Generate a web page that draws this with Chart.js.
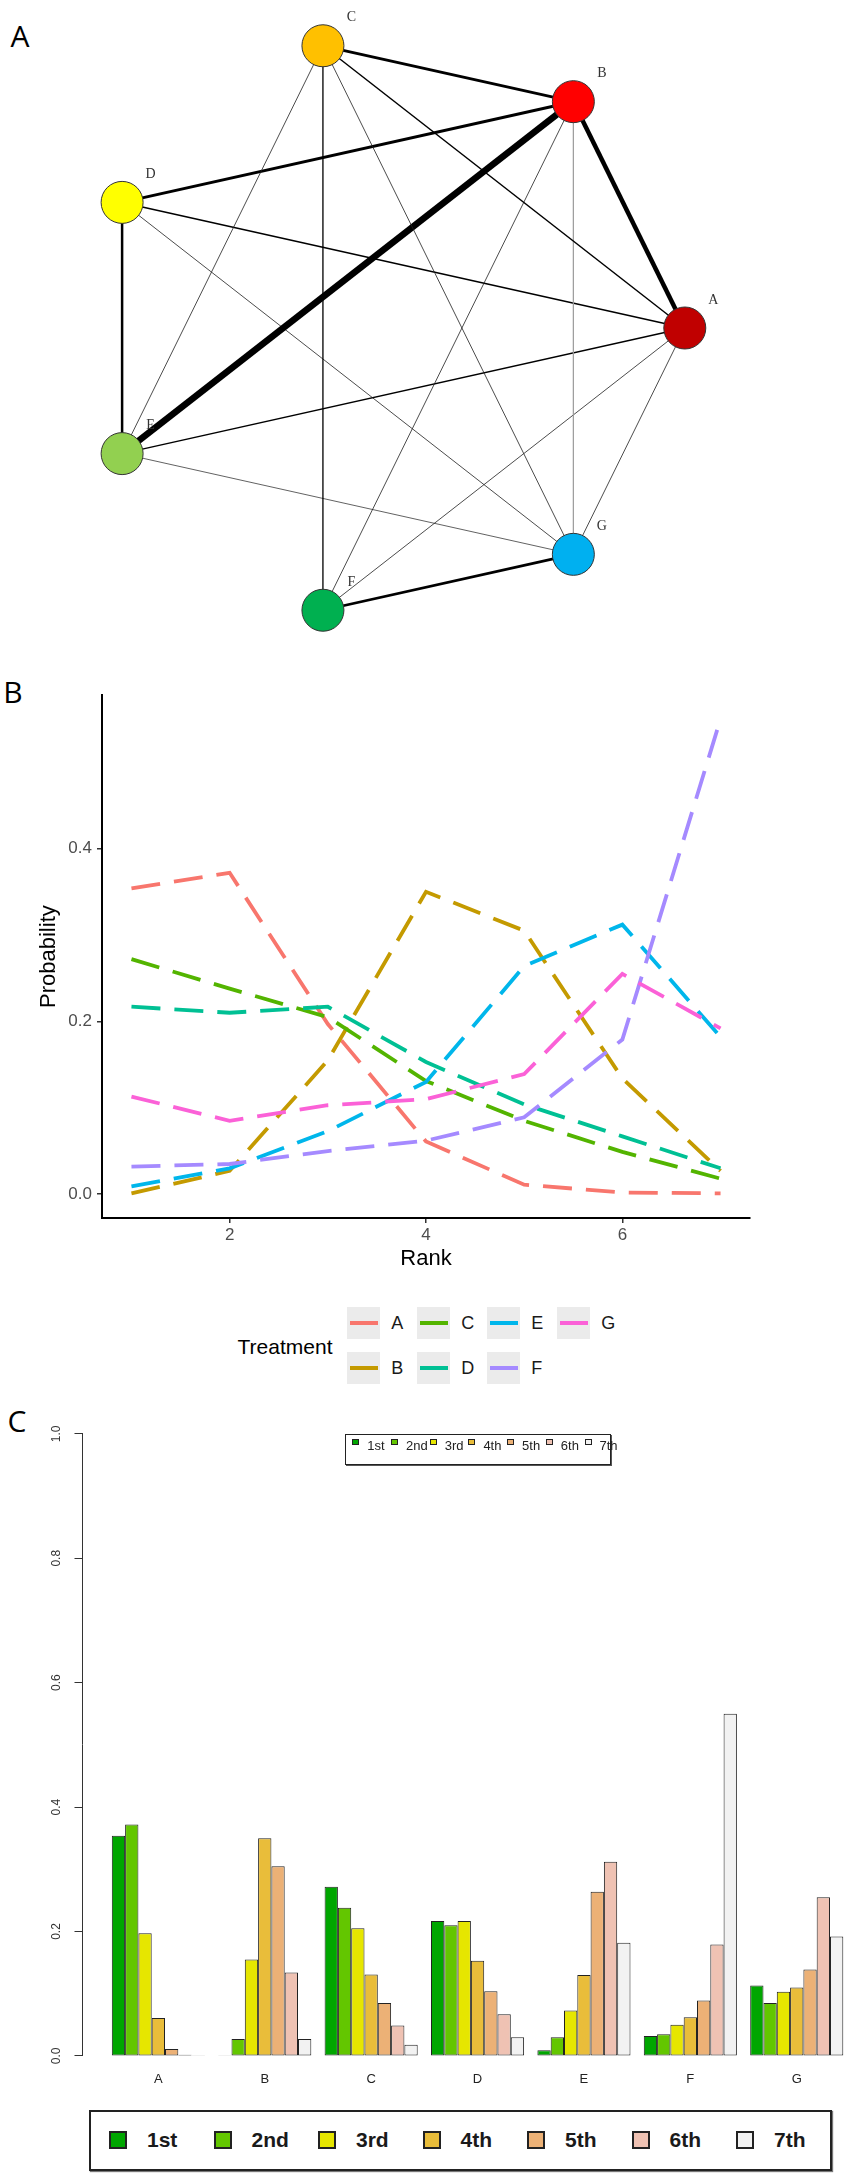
<!DOCTYPE html>
<html>
<head>
<meta charset="utf-8">
<script src="https://cdn.jsdelivr.net/npm/chart.js@4.4.1/dist/chart.umd.min.js"></script>
<style>
  body { margin: 0; background: #fff; width: 851px; height: 2182px; position: relative; overflow: hidden;
         font-family: "Liberation Sans", Arial, sans-serif; }
  canvas { position: absolute; left: 0; }
  .tag { position: absolute; font-family: "Open Sans", sans-serif; font-size: 30px; line-height: 30px;
         transform: translate(-50%, -50%); color: #000; }
  .abs { position: absolute; }
</style>
</head>
<body>
<div class="tag" style="left:20px;top:36px">A</div>
<div class="tag" style="left:13px;top:692px">B</div>
<div class="tag" style="left:17px;top:1421px">C</div>

<canvas id="netChart" width="851" height="660" style="top:0"></canvas>
<canvas id="lineChart" width="851" height="610" style="top:680px"></canvas>
<div id="lineLegend"></div>
<canvas id="barChart" width="851" height="700" style="top:1400px"></canvas>
<div id="barLegendTop"></div>
<div id="barLegendBottom"></div>

<script>
// treatments and ranks
const treatments = ['A', 'B', 'C', 'D', 'E', 'F', 'G'];
const ranks = [1, 2, 3, 4, 5, 6, 7];
const rankNames = ['1st', '2nd', '3rd', '4th', '5th', '6th', '7th'];

// probability of being ranked 1st..7th, one array per treatment
const probA = [0.354, 0.372, 0.197, 0.061, 0.011, 0.002, 0.001];
const probB = [0.001, 0.027, 0.155, 0.350, 0.305, 0.134, 0.027];
const probC = [0.272, 0.238, 0.205, 0.131, 0.085, 0.049, 0.018];
const probD = [0.217, 0.210, 0.217, 0.153, 0.104, 0.067, 0.030];
const probE = [0.009, 0.030, 0.073, 0.130, 0.264, 0.312, 0.182];
const probF = [0.032, 0.035, 0.050, 0.062, 0.089, 0.179, 0.550];
const probG = [0.113, 0.085, 0.103, 0.110, 0.139, 0.255, 0.192];
const probs = [probA, probB, probC, probD, probE, probF, probG];

// network: direct comparisons and their line widths
const edgeFrom  = ['C', 'C', 'C', 'C', 'C', 'B', 'B', 'B', 'B', 'B', 'D', 'D', 'D', 'A', 'A', 'A', 'E', 'F'];
const edgeTo    = ['B', 'A', 'G', 'F', 'E', 'D', 'E', 'A', 'G', 'F', 'A', 'G', 'E', 'E', 'G', 'F', 'G', 'G'];
const edgeWidth = [2.8, 1.5, 0.8, 1.3, 0.8, 3.0, 6.5, 4.5, 1.2, 0.8, 1.5, 0.8, 2.5, 1.5, 0.8, 0.8, 0.7, 2.8];

// tick labels
const rankTicks = [2, 4, 6];
const lineTicks = [0, 0.2, 0.4];
const barTicks = [0, 0.2, 0.4, 0.6, 0.8, 1.0];

const nodeColors = ['#C00000', '#FF0000', '#FFC000', '#FFFF00', '#92D050', '#00B050', '#00B0F0'];
const lineColors = ['#F8766D', '#C49A00', '#53B400', '#00C094', '#00B6EB', '#A58AFF', '#FB61D7'];
const rankColors = ['#00A600', '#63C600', '#E6E600', '#E9BD3A', '#ECB176', '#EFC2B3', '#F2F2F2'];

Chart.defaults.font.family = '"Liberation Sans", Arial, sans-serif';
Chart.defaults.animation = false;
Chart.defaults.plugins.legend.display = false;
Chart.defaults.plugins.tooltip.enabled = false;

// ---------- A: network (circle layout) ----------
const nodeX = treatments.map((t, k) => Math.cos(2 * Math.PI * k / 7));
const nodeY = treatments.map((t, k) => Math.sin(2 * Math.PI * k / 7));

function nodePoint(name) {
  let k = treatments.indexOf(name);
  return { x: nodeX[k], y: nodeY[k] };
}

let netSets = [{
  type: 'scatter',
  data: treatments.map((t, k) => ({ x: nodeX[k], y: nodeY[k] })),
  pointRadius: 21,
  pointBackgroundColor: nodeColors,
  pointBorderColor: '#333',
  pointBorderWidth: 1,
  order: 0
}];
for (let i = 0; i < edgeFrom.length; i++) {
  let grey = edgeFrom[i] === 'B' && edgeTo[i] === 'G';
  netSets.push({
    type: 'line',
    data: [nodePoint(edgeFrom[i]), nodePoint(edgeTo[i])],
    borderColor: grey ? '#9a9a9a' : (edgeWidth[i] < 1 ? '#1e1e1e' : '#000'),
    borderWidth: edgeWidth[i],
    pointRadius: 0,
    order: 1
  });
}

const nodeLabels = {
  id: 'nodeLabels',
  afterDatasetsDraw(chart) {
    const { ctx, scales: { x, y } } = chart;
    ctx.save();
    ctx.font = '14px "Liberation Serif", serif';
    ctx.fillStyle = '#333';
    ctx.textAlign = 'center';
    ctx.textBaseline = 'middle';
    treatments.forEach((t, k) => {
      ctx.fillText(t, x.getPixelForValue(nodeX[k]) + 28.5, y.getPixelForValue(nodeY[k]) - 28);
    });
    ctx.restore();
  }
};

new Chart(document.getElementById('netChart'), {
  type: 'scatter',
  data: { datasets: netSets },
  options: {
    responsive: false,
    layout: { padding: 0, autoPadding: false },
    scales: {
      x: { type: 'linear', display: false, min: -1.3135, max: 1.5615 },
      y: { type: 'linear', display: false, min: -1.1468, max: 1.133 }
    }
  },
  plugins: [nodeLabels]
});

// ---------- B: rankogram lines ----------
new Chart(document.getElementById('lineChart'), {
  type: 'line',
  data: {
    datasets: treatments.map((t, i) => ({
      label: t,
      data: ranks.map((r, j) => ({ x: r, y: probs[i][j] })),
      borderColor: lineColors[i],
      borderWidth: 3.8,
      borderDash: [29, 14],
      pointRadius: 0,
      tension: 0,
      fill: false,
      order: -i
    }))
  },
  options: {
    responsive: false,
    layout: { padding: { top: 8, right: 101, left: 0, bottom: 0 }, autoPadding: false },
    scales: {
      x: {
        type: 'linear', min: 0.7, max: 7.3,
        afterBuildTicks: s => { s.ticks = rankTicks.map(v => ({ value: v })); },
        afterFit: s => { s.height = 72; },
        grid: { display: true, drawOnChartArea: false, tickLength: 5, color: '#333', lineWidth: 1.5 },
        border: { display: true, color: '#000', width: 2 },
        ticks: { color: '#4D4D4D', font: { size: 17 }, padding: 2, maxRotation: 0, callback: v => String(v) },
        title: { display: true, text: 'Rank', color: '#000', font: { size: 22 }, padding: { top: 0, bottom: 18 } }
      },
      y: {
        type: 'linear', min: -0.0275, max: 0.5775,
        afterBuildTicks: s => { s.ticks = lineTicks.map(v => ({ value: v })); },
        afterFit: s => { s.width = 102; },
        grid: { display: true, drawOnChartArea: false, tickLength: 5, color: '#333', lineWidth: 1.5 },
        border: { display: true, color: '#000', width: 2 },
        ticks: { color: '#4D4D4D', font: { size: 17 }, padding: 5, callback: v => v.toFixed(1) },
        title: { display: true, text: 'Probability', color: '#000', font: { size: 22 }, padding: { top: 35.6, bottom: 0 } }
      }
    }
  }
});

// legend of B, filled column by column like ggplot
let lineLegend = document.getElementById('lineLegend');
let html = '<div class="abs" style="left:285px;top:1347px;transform:translate(-50%,-50%);font-size:21px;white-space:nowrap">Treatment</div>';
treatments.forEach((t, i) => {
  let col = Math.floor(i / 2), row = i % 2;
  let left = 347.3 + 70 * col, top = 1306.7 + 45 * row;
  html += '<div class="abs" style="left:' + left + 'px;top:' + top + 'px;width:32.6px;height:32px;background:#EBEBEB">' +
          '<div class="abs" style="left:2.7px;top:14.1px;width:28px;height:3.8px;background:' + lineColors[i] + '"></div></div>';
  html += '<div class="abs" style="left:' + (left + 44) + 'px;top:' + (top + 16) + 'px;transform:translateY(-50%);font-size:18px;color:#1a1a1a">' + t + '</div>';
});
lineLegend.innerHTML = html;

// ---------- C: grouped bars ----------
new Chart(document.getElementById('barChart'), {
  type: 'bar',
  data: {
    datasets: rankNames.map((r, k) => ({
      label: r,
      data: treatments.map((t, i) => ({ x: i, y: probs[i][k] })),
      backgroundColor: rankColors[k],
      borderColor: '#222',
      borderWidth: 1,
      borderSkipped: false,
      categoryPercentage: 0.875,
      barPercentage: 1
    }))
  },
  options: {
    responsive: false,
    layout: { padding: { top: 33.8, right: 0, left: 0, bottom: 0 }, autoPadding: false },
    scales: {
      x: {
        type: 'linear', min: -0.713, max: 6.51, offset: false,
        afterBuildTicks: s => { s.ticks = treatments.map((t, i) => ({ value: i })); },
        afterFit: s => { s.height = 44.1; },
        grid: { display: false, drawTicks: false, offset: false },
        border: { display: false },
        ticks: { color: '#222', font: { size: 13 }, padding: 16.2, maxRotation: 0, callback: v => treatments[v] }
      },
      y: {
        type: 'linear', min: 0, max: 1,
        afterBuildTicks: s => { s.ticks = barTicks.map(v => ({ value: v })); },
        afterFit: s => { s.width = 82.5; },
        grid: { display: true, drawOnChartArea: false, tickLength: 8, color: '#333', lineWidth: 1 },
        border: { display: true, color: '#333', width: 1 },
        ticks: { color: '#333', font: { size: 12 }, padding: 9.5, minRotation: 90, maxRotation: 90,
                 crossAlign: 'center', callback: v => v.toFixed(1) }
      }
    }
  }
});

// small legend inside the plot, top
let top1 = '<div class="abs" style="left:345px;top:1434px;width:264px;height:29px;border:1px solid #222;box-shadow:1px 1px 0 #555"></div>';
rankNames.forEach((r, k) => {
  let left = 352.3 + 38.7 * k;
  top1 += '<div class="abs" style="left:' + left + 'px;top:1438.5px;width:5px;height:4.5px;border:1px solid #222;background:' + rankColors[k] + '"></div>';
  top1 += '<div class="abs" style="left:' + (left + 15) + 'px;top:1445px;transform:translateY(-50%);font-size:13px;color:#222">' + r + '</div>';
});
document.getElementById('barLegendTop').innerHTML = top1;

// big legend under the plot
let bottom = '<div class="abs" style="left:88.5px;top:2110px;width:739px;height:57px;border:2px solid #222;box-shadow:1px 1px 1px #777"></div>';
rankNames.forEach((r, k) => {
  let left = 109 + 104.5 * k;
  bottom += '<div class="abs" style="left:' + left + 'px;top:2131px;width:14px;height:14px;border:2px solid #222;background:' + rankColors[k] + '"></div>';
  bottom += '<div class="abs" style="left:' + (left + 38) + 'px;top:2140px;transform:translateY(-50%);font-size:21px;font-weight:bold;color:#1a1a1a">' + r + '</div>';
});
document.getElementById('barLegendBottom').innerHTML = bottom;
</script>
</body>
</html>
